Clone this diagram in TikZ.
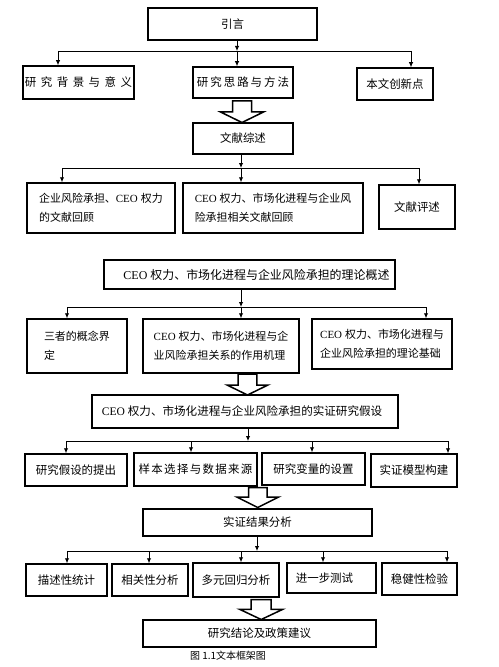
\documentclass[tikz,border=0pt]{standalone}
\usepackage{fontspec}
\setmainfont{Noto Sans CJK SC}
\newfontfamily\latf{Liberation Serif}
\usetikzlibrary{arrows.meta,calc}
\newcommand\ceo{{\latf CEO}\kern3bp}
\newcommand\harrow[6]{\draw[harr] (#1-#5,#2) -- (#1+#5,#2) -- (#1+#5,#3) -- (#1+#6,#3) -- (#1,#4) -- (#1-#6,#3) -- (#1-#5,#3) -- cycle;}
\begin{document}
\begin{tikzpicture}[x=1bp,y=-1bp,
  bx/.style 2 args={draw,line width=1.5bp,minimum width=#1,minimum height=#2,inner sep=2bp,align=left,font=\fontsize{11.5}{19}\selectfont},
  multi/.style={font=\fontsize{11}{19.5}\selectfont},
  big/.style={font=\fontsize{12}{19}\selectfont},
  ln/.style={line width=0.9bp},
  arr/.style={line width=0.9bp,-{Latex[length=5bp,width=4.5bp]}},
  harr/.style={line width=1.5bp,line join=miter,fill=white}]
\useasboundingbox (0,0) rectangle (499,667);

% level 1
\node[bx={169bp}{32bp}] (intro) at (232.5,24) {引言};
\node[bx={103bp}{33bp}] (bg) at (78.5,82.5) {研\kern4.5bp 究\kern4.5bp 背\kern4.5bp 景\kern4.5bp 与\kern4.5bp 意\kern4.5bp 义};
\node[bx={100bp}{31bp}] (method) at (243,82.5) {研\kern2bp 究\kern2bp 思\kern2bp 路\kern2bp 与\kern2bp 方\kern2bp 法};
\node[bx={76bp}{32bp}] (innov) at (395,84) {本文创新点};
\coordinate (j1) at (237,51);
\coordinate (b1l) at (58,51);
\coordinate (b1r) at (411,51);
\draw[arr] (intro.south -| j1) -- (j1);
\draw[ln] (b1l) -- (b1r);
\draw[arr] (b1l) -- (bg.north -| b1l);
\draw[arr] (j1) -- (method.north -| j1);
\draw[arr] (b1r) -- (innov.north -| b1r);

\harrow{242}{101}{112}{122.5}{9.5}{21.5}

% level 2
\node[bx={100bp}{31bp}] (lit) at (243,138.5) {文献综述};
\node[bx={148bp}{50bp},multi] (l1) at (101,208) {企业风险承担、\ceo 权力\\的文献回顾};
\node[bx={180bp}{50bp},multi] (l2) at (273,208) {\ceo 权力、市场化进程与企业风\\险承担相关文献回顾};
\node[bx={76bp}{44bp}] (l3) at (417,207) {文献评述};
\coordinate (j2) at (241,168);
\coordinate (b2l) at (62,168);
\coordinate (b2r) at (419,168);
\draw[arr] (lit.south -| j2) -- (j2);
\draw[ln] (b2l) -- (b2r);
\draw[arr] (b2l) -- (l1.north -| b2l);
\draw[arr] (j2) -- (l2.north -| j2);
\draw[arr] (b2r) -- (l3.north -| b2r);

% level 3
\node[bx={291bp}{29bp},big] (theory) at (249.5,274.5) {\hspace*{14bp}\ceo 权力、市场化进程与企业风险承担的理论概述};
\node[bx={100bp}{54bp},multi] (t1) at (77,346) {三者的概念界\\定\hspace*{55bp}};
\node[bx={156bp}{54bp},multi] (t2) at (221,346) {\ceo 权力、市场化进程与企\\业风险承担关系的作用机理};
\node[bx={140bp}{50bp},multi] (t3) at (382,344) {\ceo 权力、市场化进程与\\企业风险承担的理论基础};
\coordinate (j3) at (241,307);
\coordinate (b3l) at (67,307);
\coordinate (b3r) at (426,307);
\draw[arr] (theory.south -| j3) -- (j3);
\draw[ln] (b3l) -- (b3r);
\draw[arr] (b3l) -- (t1.north -| b3l);
\draw[arr] (j3) -- (t2.north -| j3);
\draw[arr] (b3r) -- (t3.north -| b3r);

\harrow{247.5}{374}{385}{395}{9.3}{20.5}

% level 4
\node[bx={306bp}{33bp},font=\fontsize{11.6}{19}\selectfont] (hyp) at (245,411.5) {\ceo 权力、市场化进程与企业风险承担的实证研究假设\hspace*{6bp}};
\node[bx={102bp}{32bp}] (h1) at (76,470) {研究假设的提出};
\node[bx={123bp}{33bp}] (h2) at (195.5,469.5) {样\kern1.3bp 本\kern1.3bp 选\kern1.3bp 择\kern1.3bp 与\kern1.3bp 数\kern1.3bp 据\kern1.3bp 来\kern1.3bp 源};
\node[bx={103bp}{32bp}] (h3) at (313.5,469) {研究变量的设置};
\node[bx={86bp}{33bp}] (h4) at (414,470.5) {实证模型构建};
\coordinate (j4) at (248,441);
\coordinate (b4l) at (66,441);
\coordinate (b4a) at (191,441);
\coordinate (b4b) at (312,441);
\coordinate (b4r) at (448,441);
\draw[arr] (hyp.south -| j4) -- (j4);
\draw[ln] (b4l) -- (b4r);
\draw[arr] (b4l) -- (h1.north -| b4l);
\draw[arr] (b4a) -- (h2.north -| b4a);
\draw[arr] (b4b) -- (h3.north -| b4b);
\draw[arr] (b4r) -- (h4.north -| b4r);

\harrow{257.8}{487.5}{497}{507.5}{9.2}{21}

% level 5
\node[bx={229bp}{27bp}] (res) at (257.5,522.5) {实证结果分析};
\node[bx={81bp}{32bp}] (r1) at (66.5,580) {描述性统计};
\node[bx={76bp}{32bp}] (r2) at (150,580) {相关性分析};
\node[bx={86bp}{34bp}] (r3) at (236,580) {多元回归分析};
\node[bx={89bp}{30bp}] (r4) at (331.5,578) {进一步测试\hspace*{14bp}};
\node[bx={75bp}{32bp}] (r5) at (419.5,579) {稳健性检验};
\coordinate (j5) at (257,551);
\coordinate (b5l) at (67,551);
\coordinate (b5a) at (149,551);
\coordinate (b5b) at (241,551);
\coordinate (b5c) at (323,551);
\coordinate (b5r) at (447,551);
\draw[arr] (res.south -| j5) -- (j5);
\draw[ln] (b5l) -- (b5r);
\draw[arr] (b5l) -- (r1.north -| b5l);
\draw[arr] (b5a) -- (r2.north -| b5a);
\draw[arr] (b5b) -- (r3.north -| b5b);
\draw[arr] (b5c) -- (r4.north -| b5c);
\draw[arr] (b5r) -- (r5.north -| b5r);

\harrow{261.2}{599.5}{609.3}{619.5}{10}{21.6}

\node[bx={233bp}{27bp}] (concl) at (259.5,633.5) {研究结论及政策建议};
\node[font=\fontsize{10}{12}\selectfont,inner sep=0pt] (cap) at (228,656) {图 1.1文本框架图};
\end{tikzpicture}
\end{document}
